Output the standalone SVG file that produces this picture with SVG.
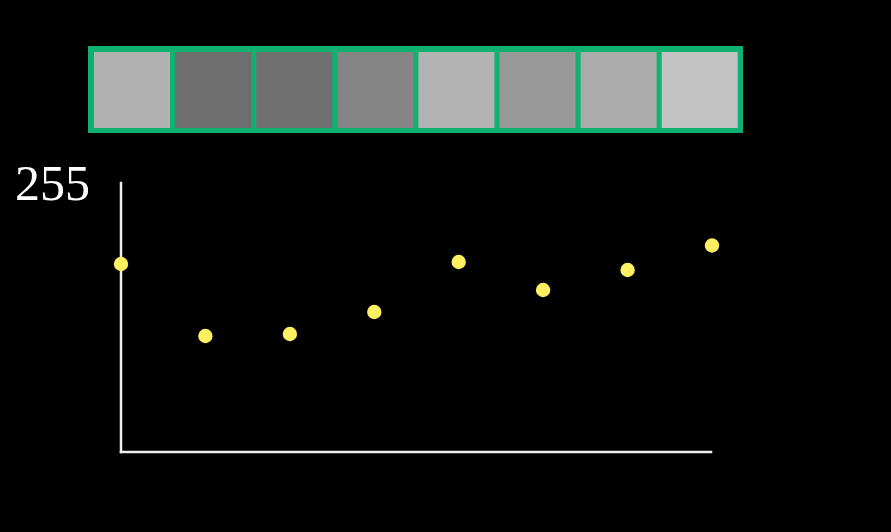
<svg xmlns="http://www.w3.org/2000/svg" width="891" height="532" viewBox="0 0 891 532">
  <style>
    .cell { stroke: none; }
    .axis { stroke: #EEEEEE; stroke-width: 2.5; fill: none; stroke-linecap: square; }
    .dot { fill: #FFF062; }
    .lbl { font-family: "Liberation Serif", "DejaVu Serif", serif; font-size: 50px; fill: #FFFFFF; }
  </style>
  <rect x="0" y="0" width="891" height="532" fill="#000000"/>
  <g id="strip">
    <rect x="88" y="46" width="655" height="87" fill="#10B070"/>
    <rect class="cell" x="94" y="52" width="76" height="76" fill="#B1B1B1"/>
    <rect class="cell" x="175.1" y="52" width="76" height="76" fill="#6E6E6E"/>
    <rect class="cell" x="256.2" y="52" width="76" height="76" fill="#707070"/>
    <rect class="cell" x="337.3" y="52" width="76" height="76" fill="#858585"/>
    <rect class="cell" x="418.4" y="52" width="76" height="76" fill="#B3B3B3"/>
    <rect class="cell" x="499.5" y="52" width="76" height="76" fill="#989898"/>
    <rect class="cell" x="580.6" y="52" width="76" height="76" fill="#ABABAB"/>
    <rect class="cell" x="661.7" y="52" width="76" height="76" fill="#C3C3C3"/>
  </g>
  <g id="axes">
    <line class="axis" x1="121" y1="183" x2="121" y2="452"/>
    <line class="axis" x1="121" y1="452" x2="711" y2="452"/>
  </g>
  <g id="label">
    <text class="lbl" x="15" y="200">255</text>
  </g>
  <g id="dots">
    <circle class="dot" cx="121" cy="264" r="7.2"/>
    <circle class="dot" cx="205.4" cy="336" r="7.2"/>
    <circle class="dot" cx="289.9" cy="334" r="7.2"/>
    <circle class="dot" cx="374.3" cy="312" r="7.2"/>
    <circle class="dot" cx="458.7" cy="262" r="7.2"/>
    <circle class="dot" cx="543.1" cy="290" r="7.2"/>
    <circle class="dot" cx="627.6" cy="270" r="7.2"/>
    <circle class="dot" cx="712" cy="245.5" r="7.2"/>
  </g>
</svg>
